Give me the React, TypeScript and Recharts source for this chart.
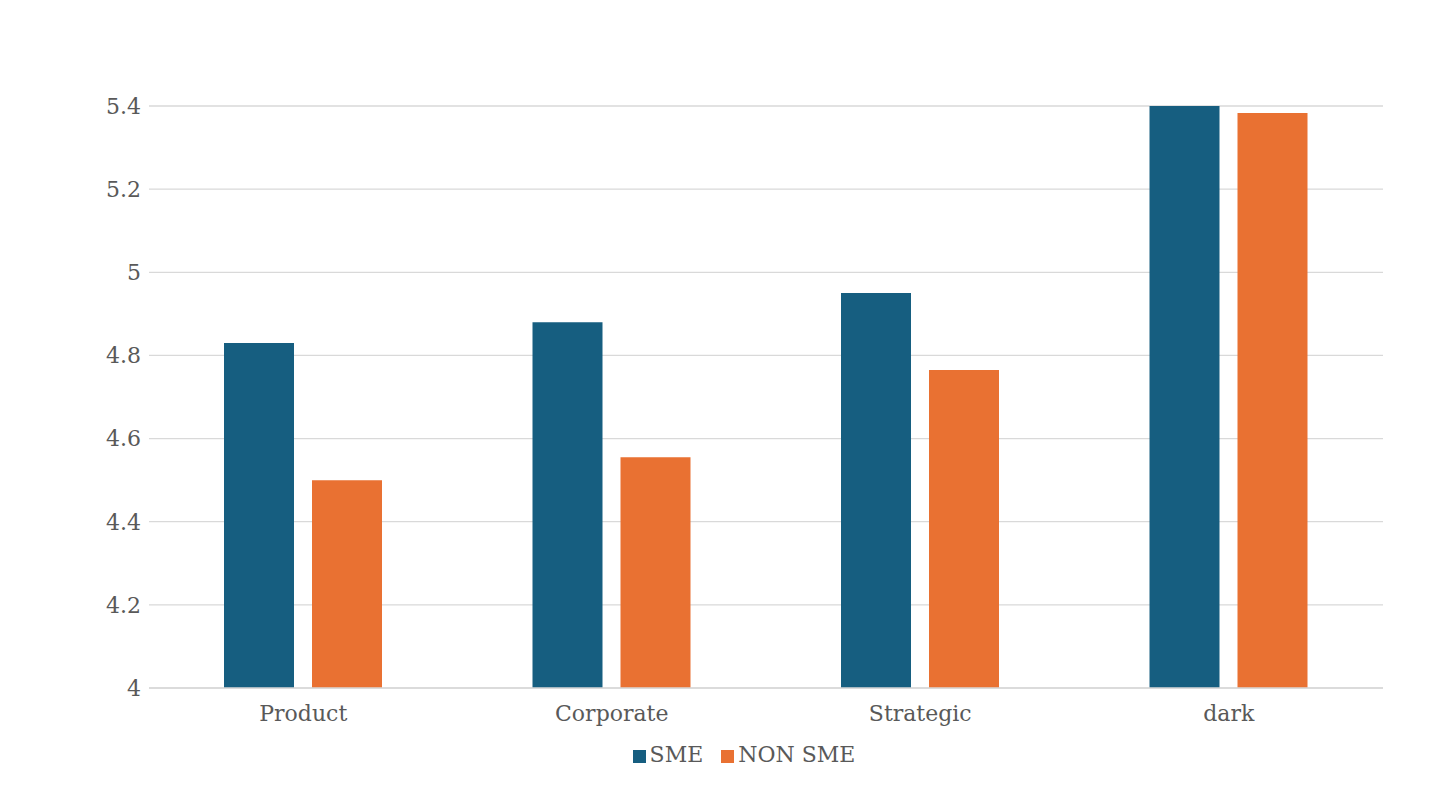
import React from 'react'
import { Bar, BarChart, CartesianGrid, Legend, XAxis, YAxis } from 'recharts'

const categories = ['Product', 'Corporate', 'Strategic', 'dark']
const smeValues = [4.83, 4.88, 4.95, 5.4]
const nonSmeValues = [4.5, 4.555, 4.765, 5.383]
const yTicks = [4, 4.2, 4.4, 4.6, 4.8, 5, 5.2, 5.4]

const data = categories.map((name, i) => ({
    name,
    sme: smeValues[i],
    nonSme: nonSmeValues[i],
}))

const font = '"DejaVu Serif", serif'
const textColor = '#595959'

function App() {
    return (
        <div style={{ position: 'absolute', left: 0, top: 0, width: 1437, height: 811, background: '#fff' }}>
            <BarChart
                width={1437}
                height={811}
                data={data}
                margin={{ top: 106, right: 54, left: 0, bottom: 63 }}
                barGap={18}
                barSize={70}
            >
                <CartesianGrid vertical={false} stroke='#d9d9d9' strokeWidth={1.3} />
                <XAxis
                    dataKey='name'
                    height={60}
                    axisLine={{ stroke: '#d9d9d9', strokeWidth: 1.3 }}
                    tickLine={false}
                    tick={{ fill: textColor, fontFamily: font, fontSize: 22 }}
                    tickMargin={11}
                />
                <YAxis
                    width={149}
                    domain={[4, 5.4]}
                    ticks={yTicks}
                    allowDataOverflow
                    axisLine={false}
                    tickLine={false}
                    tick={{ fill: textColor, fontFamily: font, fontSize: 22 }}
                />
                <Legend
                    layout='horizontal'
                    verticalAlign='middle'
                    iconType='square'
                    iconSize={13}
                    itemSorter={null}
                    wrapperStyle={{ top: 742, left: 618, width: 270, fontFamily: font, fontSize: 22 }}
                    formatter={(value) => <span style={{ color: textColor, marginRight: 8 }}>{value}</span>}
                />
                <Bar dataKey='sme' name='SME' fill='#165E80' isAnimationActive={false} />
                <Bar dataKey='nonSme' name='NON SME' fill='#E97132' isAnimationActive={false} />
            </BarChart>
        </div>
    )
}

export default App
